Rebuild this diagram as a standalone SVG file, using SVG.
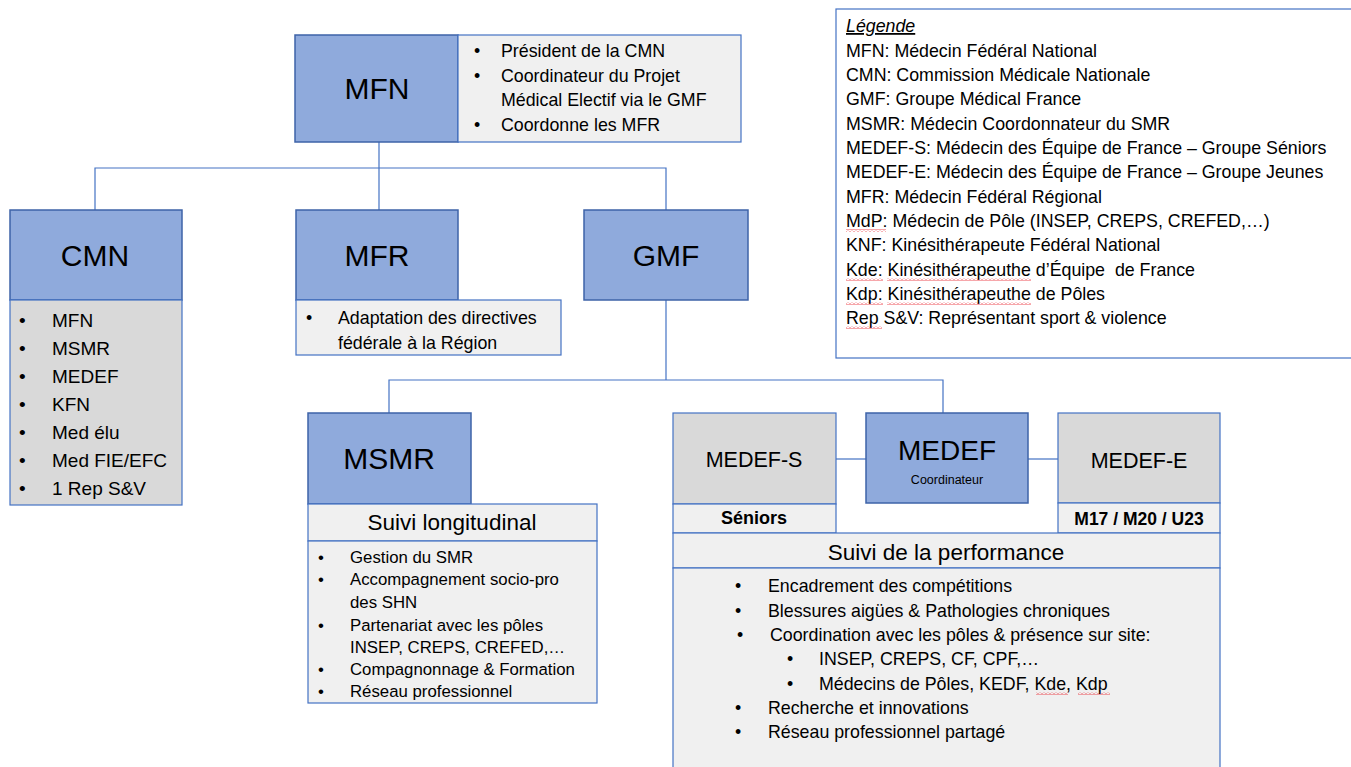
<svg xmlns="http://www.w3.org/2000/svg" width="1351" height="767" viewBox="0 0 1351 767">
<defs>
<pattern id="squig" x="0" y="0" width="4" height="3" patternUnits="userSpaceOnUse">
<path d="M0 2.5 L2 0.5 L4 2.5" fill="none" stroke="#e8202a" stroke-width="0.8"/>
</pattern>
</defs>
<style>
text{font-family:"Liberation Sans",Arial,sans-serif;fill:#000}
.blue{fill:#8faadc;stroke:#3e63a8;stroke-width:1.5}
.dark{fill:#d9d9d9;stroke:#4472c4;stroke-width:1.2}
.light{fill:#f0f0f0;stroke:#4472c4;stroke-width:1.2}
.conn{fill:none;stroke:#4472c4;stroke-width:1.2}
.title{font-size:30px;text-anchor:middle}
.mid{text-anchor:middle}
.b175{font-size:17.8px}
.leg{font-size:17.8px}
.sq{fill:url(#squig)}
</style>

<g id="connectors">
<path class="conn" d="M379 142 V168"/>
<path class="conn" d="M95 210 V168 H666 V210"/>
<path class="conn" d="M379 168 V210"/>
<path class="conn" d="M666 300 V380"/>
<path class="conn" d="M389 413 V380 H943 V413"/>
<path class="conn" d="M836 459 H866"/>
<path class="conn" d="M1028 459 H1058"/>
</g>

<g id="node-mfn">
<rect class="blue" x="295" y="35" width="163" height="107"/>
<rect class="light" x="458" y="35" width="283" height="107"/>
<text class="title" x="377" y="99">MFN</text>
<text class="b175" y="57"><tspan x="474">•</tspan><tspan x="501">Président de la CMN</tspan></text>
<text class="b175" y="82"><tspan x="474">•</tspan><tspan x="501">Coordinateur du Projet</tspan></text>
<text class="b175" y="106"><tspan x="501">Médical Electif via le GMF</tspan></text>
<text class="b175" y="131"><tspan x="474">•</tspan><tspan x="501">Coordonne les MFR</tspan></text>
</g>

<g id="node-cmn">
<rect class="blue" x="10" y="210" width="172" height="90"/>
<rect class="dark" x="10" y="300" width="172" height="205"/>
<text class="title" x="95" y="266">CMN</text>
<g font-size="19">
<text y="327"><tspan x="19">•</tspan><tspan x="52">MFN</tspan></text>
<text y="355"><tspan x="19">•</tspan><tspan x="52">MSMR</tspan></text>
<text y="383"><tspan x="19">•</tspan><tspan x="52">MEDEF</tspan></text>
<text y="411"><tspan x="19">•</tspan><tspan x="52">KFN</tspan></text>
<text y="439"><tspan x="19">•</tspan><tspan x="52">Med élu</tspan></text>
<text y="467"><tspan x="19">•</tspan><tspan x="52">Med FIE/EFC</tspan></text>
<text y="495"><tspan x="19">•</tspan><tspan x="52">1 Rep S&amp;V</tspan></text>
</g>
</g>

<g id="node-mfr">
<rect class="blue" x="296" y="210" width="162" height="90"/>
<rect class="light" x="296" y="300" width="265" height="55"/>
<text class="title" x="377" y="266">MFR</text>
<g font-size="17.8">
<text y="324"><tspan x="306">•</tspan><tspan x="338">Adaptation des directives</tspan></text>
<text y="349"><tspan x="338">fédérale à la Région</tspan></text>
</g>
</g>

<g id="node-gmf">
<rect class="blue" x="584" y="210" width="164" height="90"/>
<text class="title" x="666" y="266">GMF</text>
</g>

<g id="node-msmr">
<rect class="blue" x="308" y="413" width="163" height="91"/>
<rect class="light" x="308" y="504" width="289" height="37"/>
<rect class="light" x="308" y="541" width="289" height="162"/>
<text class="title" x="389" y="469">MSMR</text>
<text class="mid" x="452" y="530" font-size="22.5">Suivi longitudinal</text>
<g font-size="16.8">
<text y="563"><tspan x="318">•</tspan><tspan x="350">Gestion du SMR</tspan></text>
<text y="585"><tspan x="318">•</tspan><tspan x="350">Accompagnement socio-pro</tspan></text>
<text y="608"><tspan x="350">des SHN</tspan></text>
<text y="631"><tspan x="318">•</tspan><tspan x="350">Partenariat avec les pôles</tspan></text>
<text y="653"><tspan x="350">INSEP, CREPS, CREFED,…</tspan></text>
<text y="675"><tspan x="318">•</tspan><tspan x="350">Compagnonnage &amp; Formation</tspan></text>
<text y="697"><tspan x="318">•</tspan><tspan x="350">Réseau professionnel</tspan></text>
</g>
</g>

<g id="node-medef-s">
<rect class="dark" x="673" y="413" width="163" height="91"/>
<rect class="light" x="673" y="504" width="163" height="29"/>
<text class="mid" x="754" y="467" font-size="21.5">MEDEF-S</text>
<text class="mid" x="754" y="524" font-size="18" font-weight="bold">Séniors</text>
</g>

<g id="node-medef">
<rect class="blue" x="866" y="413" width="162" height="90"/>
<text class="mid" x="947" y="460" font-size="28">MEDEF</text>
<text class="mid" x="947" y="484" font-size="12.5">Coordinateur</text>
</g>

<g id="node-medef-e">
<rect class="dark" x="1058" y="413" width="162" height="90"/>
<rect class="light" x="1058" y="503" width="162" height="30"/>
<text class="mid" x="1139" y="468" font-size="21.5">MEDEF-E</text>
<text class="mid" x="1139" y="525" font-size="17.5" font-weight="bold">M17 / M20 / U23</text>
</g>

<g id="node-performance">
<rect class="light" x="673" y="533" width="547" height="35"/>
<rect class="light" x="673" y="568" width="547" height="210"/>
<text class="mid" x="946" y="560" font-size="22.5">Suivi de la performance</text>
<g class="b175">
<text y="592"><tspan x="735">•</tspan><tspan x="768">Encadrement des compétitions</tspan></text>
<text y="617"><tspan x="735">•</tspan><tspan x="768">Blessures aigües &amp; Pathologies chroniques</tspan></text>
<text y="641"><tspan x="737">•</tspan><tspan x="770">Coordination avec les pôles &amp; présence sur site:</tspan></text>
<text y="665"><tspan x="787">•</tspan><tspan x="819">INSEP, CREPS, CF, CPF,…</tspan></text>
<text y="690"><tspan x="787">•</tspan><tspan x="819">Médecins de Pôles, KEDF, Kde, Kdp</tspan></text>
<text y="714"><tspan x="735">•</tspan><tspan x="768">Recherche et innovations</tspan></text>
<text y="738"><tspan x="735">•</tspan><tspan x="768">Réseau professionnel partagé</tspan></text>
</g>
<rect class="sq" x="1036" y="692" width="32" height="3"/>
<rect class="sq" x="1078" y="692" width="32" height="3"/>
</g>

<g id="legend">
<rect x="836" y="9" width="530" height="349" fill="#ffffff" stroke="#4472c4" stroke-width="1.2"/>
<text class="leg" x="846" y="32" font-style="italic" text-decoration="underline">Légende</text>
<text class="leg" x="846" y="57">MFN: Médecin Fédéral National</text>
<text class="leg" x="846" y="81">CMN: Commission Médicale Nationale</text>
<text class="leg" x="846" y="105">GMF: Groupe Médical France</text>
<text class="leg" x="846" y="130">MSMR: Médecin Coordonnateur du SMR</text>
<text class="leg" x="846" y="154">MEDEF-S: Médecin des Équipe de France – Groupe Séniors</text>
<text class="leg" x="846" y="178">MEDEF-E: Médecin des Équipe de France – Groupe Jeunes</text>
<text class="leg" x="846" y="203">MFR: Médecin Fédéral Régional</text>
<text class="leg" x="846" y="227">MdP: Médecin de Pôle (INSEP, CREPS, CREFED,…)</text>
<text class="leg" x="846" y="251">KNF: Kinésithérapeute Fédéral National</text>
<text class="leg" x="846" y="276">Kde: Kinésithérapeuthe d’Équipe &#160;de France</text>
<text class="leg" x="846" y="300">Kdp: Kinésithérapeuthe de Pôles</text>
<text class="leg" x="846" y="324">Rep S&amp;V: Représentant sport &amp; violence</text>
<rect class="sq" x="846" y="229" width="40" height="3"/>
<rect class="sq" x="846" y="278" width="37" height="3"/>
<rect class="sq" x="887" y="278" width="144" height="3"/>
<rect class="sq" x="846" y="302" width="37" height="3"/>
<rect class="sq" x="887" y="302" width="144" height="3"/>
<rect class="sq" x="846" y="326" width="36" height="3"/>
</g>
</svg>
